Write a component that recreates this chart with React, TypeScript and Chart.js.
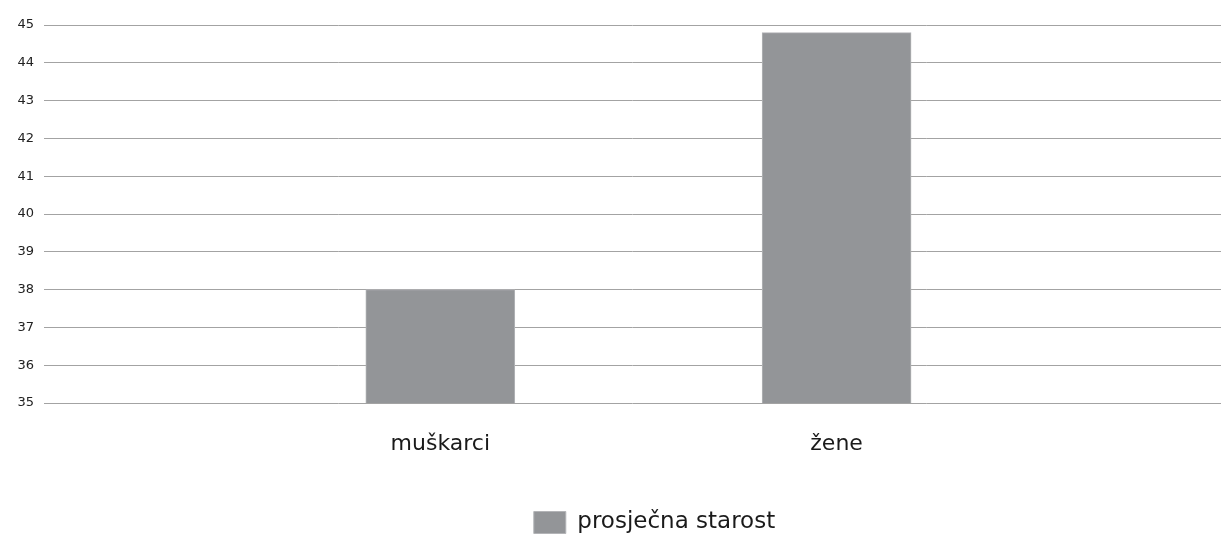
import React, { useEffect, useRef } from "react";
import { Chart, registerables } from "chart.js";

Chart.register(...registerables);

const categories: string[] = ["muškarci", "žene"];
const averageAge: number[] = [38, 44.8];
const seriesLabel = "prosječna starost";
const yMin = 35;
const yMax = 45;

const legendShift = {
  id: "legendShift",
  afterLayout(chart: any) {
    const lg = chart.legend;
    if (lg) {
      lg.left += 44;
      lg.right += 44;
      lg.top += 6;
      lg.bottom += 6;
    }
  },
};

export default function App() {
  const ref = useRef<HTMLCanvasElement | null>(null);
  useEffect(() => {
    if (!ref.current) return;
    const chart = new Chart(ref.current, {
      type: "bar",
      data: {
        datasets: [
          {
            label: seriesLabel,
            data: averageAge.map((v, i) => ({ x: i + 1, y: v })),
            backgroundColor: "#939598",
            borderColor: "#b3b4b7",
            borderWidth: 1,
            barThickness: 149,
          } as any,
        ],
      },
      options: {
        animation: false,
        responsive: true,
        maintainAspectRatio: false,
        layout: { padding: { top: 25, right: 0, left: 0, bottom: 0 } },
        plugins: {
          tooltip: { enabled: false },
          legend: {
            position: "bottom",
            labels: {
              boxWidth: 32,
              boxHeight: 22,
              color: "#1a1a1a",
              font: { family: "'DejaVu Sans'", size: 23 },
            },
          },
        },
        scales: {
          x: {
            type: "linear",
            min: 0,
            max: 2.97,
            offset: false,
            bounds: "ticks",
            grid: { display: false, drawTicks: false, offset: false },
            border: { display: false },
            afterBuildTicks: (scale: any) => {
              scale.ticks = categories.map((_, i) => ({ value: i + 1 }));
            },
            afterFit: (scale: any) => {
              scale.height = 92;
            },
            ticks: {
              padding: 28,
              autoSkip: false,
              maxRotation: 0,
              color: "#1a1a1a",
              font: { family: "'DejaVu Sans'", size: 22 },
              callback: (v: any) => categories[Number(v) - 1] ?? "",
            },
          },
          y: {
            min: yMin,
            max: yMax,
            grid: { color: "#a3a3a3", lineWidth: 1, drawTicks: false },
            border: { display: false },
            afterFit: (scale: any) => {
              scale.width = 44;
            },
            ticks: {
              stepSize: 1,
              padding: 10,
              color: "#222222",
              font: { family: "'DejaVu Sans'", size: 13 },
            },
          },
        },
      },
      plugins: [legendShift],
    });
    return () => chart.destroy();
  }, []);
  return (
    <div style={{ position: "absolute", left: 0, top: 0, width: 1221, height: 538 }}>
      <canvas ref={ref} />
    </div>
  );
}
